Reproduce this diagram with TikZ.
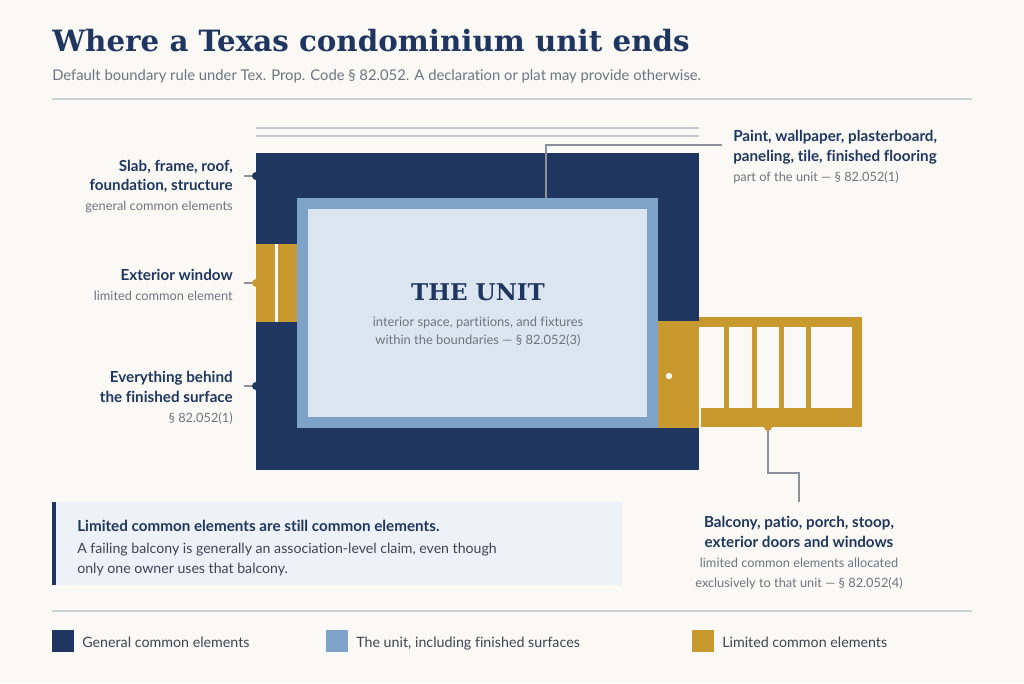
\documentclass[tikz,border=0pt]{standalone}
\usepackage{fontspec}
\setmainfont{Lato}[Ligatures=NoCommon]
\newfontfamily\titlefont{DejaVu Serif}
\usepackage{tikz}
\usetikzlibrary{positioning,calc}

\definecolor{pagebg}{HTML}{FAF9F5}
\definecolor{navy}{HTML}{1F3660}
\definecolor{unitblue}{HTML}{7EA2C8}
\definecolor{unitpale}{HTML}{DCE6F1}
\definecolor{ltdgold}{HTML}{C8992F}
\definecolor{rulegray}{HTML}{CCD0D9}
\definecolor{leadgray}{HTML}{8C929C}
\definecolor{subgray}{HTML}{6E7480}
\definecolor{bodygray}{HTML}{3F4451}
\definecolor{callfill}{HTML}{EDF1F8}

\newcommand{\sublabel}{\fontsize{9.6}{14.9}\selectfont\mdseries\color{subgray}}

\tikzset{
  lbl/.style={font=\fontsize{11.4}{14.9}\selectfont\bfseries, text=navy, inner sep=0pt},
  leader/.style={draw=leadgray, line width=1.3pt},
  keytext/.style={font=\fontsize{10.7}{12}\selectfont, text=bodygray, inner sep=0pt, anchor=west, text height=7.8pt, text depth=2.2pt}
}

\begin{document}
\begin{tikzpicture}[x=0.75pt, y=-0.75pt]
    % Page
    \fill[pagebg] (0,0) rectangle (1024,683);
    \useasboundingbox (0,0) rectangle (1024,683);

    % Heading
    \node[anchor=west, inner sep=0pt, text=navy, font=\titlefont\bfseries\fontsize{22}{26}\selectfont] (title) at (52,41) {Where a Texas condominium unit ends};
    \node[anchor=west, inner sep=0pt, text=subgray, font=\fontsize{11.1}{13}\selectfont] (subtitle) at (52,76) {Default boundary rule under Tex. Prop. Code § 82.052. A declaration or plat may provide otherwise.};
    \draw[rulegray, line width=1.5pt] (52,99) -- (972,99);

    % Roof lines
    \draw[rulegray!85!leadgray, line width=1.4pt] (256,128) -- (699,128);
    \draw[rulegray!85!leadgray, line width=1.4pt] (256,136) -- (699,136);

    % Leader points
    \coordinate (slabpt) at (256,176);
    \coordinate (slabend) at (244,176);
    \coordinate (winpt) at (256,283);
    \coordinate (winend) at (244,283);
    \coordinate (behindpt) at (256,386);
    \coordinate (behindend) at (244,386);
    \coordinate (paintpt) at (546,198);
    \coordinate (paintend) at (722,145);
    \coordinate (balpt) at (768,427);
    \coordinate (balbend) at (768,473);

    \draw[leader] (slabend) -- (slabpt);
    \draw[leader] (winend) -- (winpt);
    \draw[leader] (behindend) -- (behindpt);
    \fill[navy] (slabpt) circle (4);
    \fill[ltdgold] (winpt) circle (4);
    \fill[navy] (behindpt) circle (4);
    \draw[leader] (balpt) -- (balbend) -| (799,502);
    \fill[ltdgold] (balpt) circle (4);

    % Building section
    \fill[navy] (256,153) rectangle (699,470);
    \fill[unitblue] (297,198) rectangle (658,428);
    \fill[unitpale] (308,209) rectangle (647,417);
    \draw[leader] (paintpt) |- (paintend);

    % Exterior window
    \fill[ltdgold] (256,244) rectangle (297,322);
    \fill[pagebg] (274.5,244) rectangle (277.5,322);

    % Door and balcony
    \fill[ltdgold] (658,321) rectangle (699,428);
    \fill[pagebg] (669,376) circle (3.2);
    \fill[ltdgold] (699,317) rectangle (862,327);
    \fill[ltdgold] (852,317) rectangle (862,427);
    \fill[ltdgold] (701,408) rectangle (862,427);
    \foreach \x in {724,752,779,806} {
        \fill[ltdgold] (\x,327) rectangle (\x+5,408);
    }

    % The unit
    \node[text=navy, inner sep=0pt, font=\titlefont\bfseries\fontsize{17.3}{20}\selectfont] (unit) at (478,292) {THE UNIT};
    \node[below=12pt of unit, align=center, inner sep=0pt, text=subgray, font=\fontsize{9.7}{13.6}\selectfont] (unitnote) {interior space, partitions, and fixtures\\within the boundaries — § 82.052(3)};

    % Left labels
    \node[lbl, align=right, anchor=north east] (slab) at (233,159.5) {Slab, frame, roof,\\foundation, structure\\\sublabel general common elements};
    \node[lbl, align=right, anchor=north east] (window) at (233,269) {Exterior window\\\sublabel limited common element};
    \node[lbl, align=right, anchor=north east] (behind) at (233,371) {Everything behind\\the finished surface\\\sublabel § 82.052(1)};

    % Right labels
    \node[lbl, align=left, anchor=north west] (paint) at (733,130) {Paint, wallpaper, plasterboard,\\paneling, tile, finished flooring\\\sublabel part of the unit — § 82.052(1)};
    \node[lbl, align=center, anchor=north] (balcony) at (799,516) {Balcony, patio, porch, stoop,\\exterior doors and windows\\\sublabel limited common elements allocated\\\sublabel exclusively to that unit — § 82.052(4)};

    % Callout
    \fill[callfill] (52,502) rectangle (622,585);
    \fill[navy] (52,502) rectangle (56,585);
    \node[lbl, anchor=west] (callhead) at (77,526) {Limited common elements are still common elements.};
    \node[align=left, anchor=north west, inner sep=0pt, text=bodygray, font=\fontsize{10.6}{15.2}\selectfont] (callbody) at (77,543) {A failing balcony is generally an association-level claim, even though\\only one owner uses that balcony.};

    % Legend
    \draw[rulegray, line width=1.5pt] (52,611) -- (972,611);
    \foreach \x/\col/\txt/\nm in {52/navy/General common elements/keygen, 326/unitblue/{The unit, including finished surfaces}/keyunit, 692/ltdgold/Limited common elements/keyltd} {
        \fill[\col] (\x,630) rectangle (\x+22,652);
        \node[keytext] (\nm) at (\x+30,643.5) {\txt};
    }
\end{tikzpicture}
\end{document}
